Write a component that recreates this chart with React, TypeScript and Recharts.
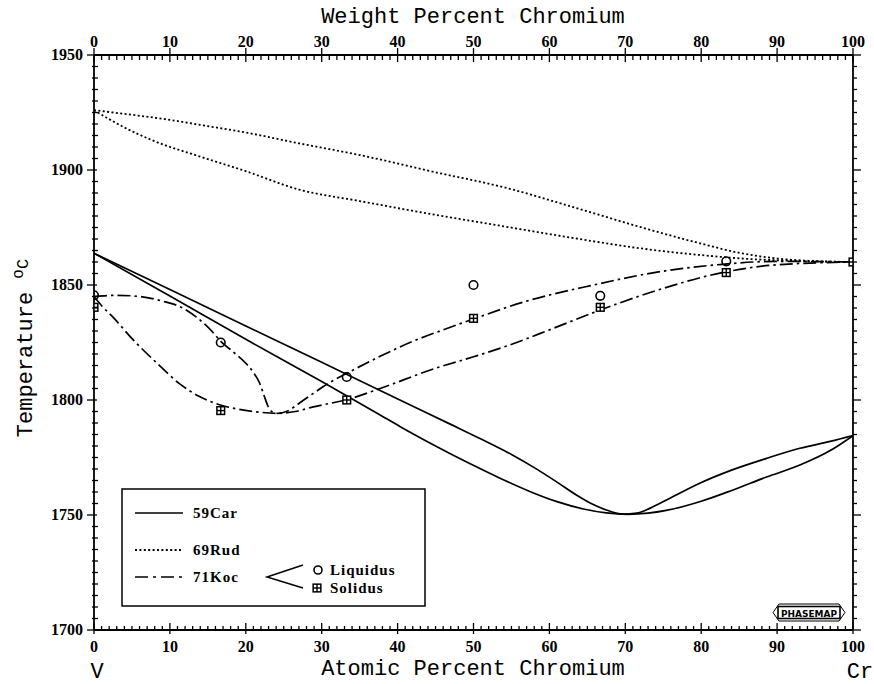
import React from 'react';
import { ComposedChart, Line, Scatter, XAxis, YAxis } from 'recharts';

// ---- axis ticks ----
const xMajorTicks = [0, 10, 20, 30, 40, 50, 60, 70, 80, 90, 100];
const xTickLabels = ['0', '10', '20', '30', '40', '50', '60', '70', '80', '90', '100'];
const xAllTicks = Array.from({ length: 101 }, (_, i) => i);
const yMajorTicks = [1700, 1750, 1800, 1850, 1900, 1950];
const yTickLabels = ['1700', '1750', '1800', '1850', '1900', '1950'];
const yAllTicks = Array.from({ length: 51 }, (_, i) => 1700 + i * 5);

// ---- 59Car (solid) ----
const car59Liquidus = [
  { x: 0, t: 1863.8 }, { x: 10, t: 1848 }, { x: 20, t: 1832.2 }, { x: 30, t: 1816.4 },
  { x: 40.3, t: 1800 }, { x: 47, t: 1789.4 }, { x: 51, t: 1783 }, { x: 55, t: 1776.3 },
  { x: 58, t: 1770.6 }, { x: 61, t: 1764.3 }, { x: 63.5, t: 1758.8 }, { x: 65.5, t: 1755 },
  { x: 67.5, t: 1752.2 }, { x: 69.7, t: 1750.4 }, { x: 71.5, t: 1750.8 }, { x: 73.3, t: 1753 },
  { x: 76, t: 1757.5 }, { x: 79.8, t: 1763.8 }, { x: 84, t: 1769.5 }, { x: 88.6, t: 1774.6 },
  { x: 93, t: 1779 }, { x: 97, t: 1782 }, { x: 100, t: 1784.5 },
];
const car59Solidus = [
  { x: 0, t: 1863.8 }, { x: 10, t: 1845.2 }, { x: 20, t: 1826.4 }, { x: 30, t: 1808 },
  { x: 37.7, t: 1793.5 }, { x: 40.3, t: 1788.5 }, { x: 45, t: 1780 }, { x: 49.1, t: 1773 },
  { x: 53.5, t: 1766 }, { x: 57.9, t: 1759.6 }, { x: 61, t: 1755.8 }, { x: 64.5, t: 1752.6 },
  { x: 67.5, t: 1750.9 }, { x: 70.3, t: 1750.3 }, { x: 73, t: 1750.8 }, { x: 75.4, t: 1752 },
  { x: 80, t: 1756 }, { x: 84.2, t: 1760.9 }, { x: 88.6, t: 1766.5 }, { x: 93, t: 1771.7 },
  { x: 97, t: 1778 }, { x: 100, t: 1784.5 },
];

// ---- 69Rud (dotted) ----
const rud69Liquidus = [
  { x: 0, t: 1926 }, { x: 5, t: 1924 }, { x: 10, t: 1921.8 }, { x: 14, t: 1919.6 },
  { x: 20, t: 1916.3 }, { x: 27, t: 1911.6 }, { x: 35, t: 1906.5 }, { x: 45, t: 1899 },
  { x: 54, t: 1892.5 }, { x: 63, t: 1884 }, { x: 72.7, t: 1874.5 }, { x: 80, t: 1868 },
  { x: 85, t: 1864 }, { x: 90, t: 1861.5 }, { x: 95, t: 1860.4 }, { x: 100, t: 1860 },
];
const rud69Solidus = [
  { x: 0, t: 1926 }, { x: 4, t: 1918.5 }, { x: 8, t: 1912.5 }, { x: 14, t: 1905.8 },
  { x: 20, t: 1899.5 }, { x: 27, t: 1891.5 }, { x: 35, t: 1886.5 }, { x: 45, t: 1880.5 },
  { x: 54, t: 1875.5 }, { x: 63, t: 1870.5 }, { x: 73, t: 1865.5 }, { x: 80, t: 1863 },
  { x: 85, t: 1861.6 }, { x: 92, t: 1860.5 }, { x: 100, t: 1860 },
];

// ---- 71Koc (dash-dot) ----
const koc71Liquidus = [
  { x: 0, t: 1845 }, { x: 3, t: 1845.5 }, { x: 6, t: 1845 }, { x: 9, t: 1843 },
  { x: 11.3, t: 1840.6 }, { x: 13.5, t: 1836 }, { x: 15.5, t: 1830 }, { x: 16.7, t: 1825.5 },
  { x: 18.5, t: 1820.5 }, { x: 20, t: 1816 }, { x: 21, t: 1812 }, { x: 21.8, t: 1807.5 },
  { x: 22.4, t: 1802 }, { x: 22.9, t: 1797.5 }, { x: 23.4, t: 1795 }, { x: 24.2, t: 1794.2 },
  { x: 25.5, t: 1795.2 }, { x: 27, t: 1798.5 }, { x: 28.9, t: 1802.9 }, { x: 31, t: 1807.5 },
  { x: 33.7, t: 1812.3 }, { x: 37.7, t: 1819 }, { x: 42, t: 1825.5 }, { x: 46, t: 1830.5 },
  { x: 49.8, t: 1835 }, { x: 57, t: 1843 }, { x: 65.8, t: 1850 }, { x: 74, t: 1855.5 },
  { x: 82.8, t: 1859 }, { x: 90, t: 1860.3 }, { x: 100, t: 1860 },
];
const koc71Solidus = [
  { x: 0, t: 1845 }, { x: 1, t: 1841 }, { x: 2.5, t: 1836 }, { x: 5.2, t: 1826 },
  { x: 8.3, t: 1816 }, { x: 11.3, t: 1807 }, { x: 13.9, t: 1801.5 }, { x: 16.9, t: 1797.6 },
  { x: 19, t: 1796 }, { x: 21, t: 1795 }, { x: 24.2, t: 1794.2 }, { x: 26.5, t: 1795 },
  { x: 28.9, t: 1797 }, { x: 33.7, t: 1800.5 }, { x: 37.7, t: 1805 }, { x: 45, t: 1813.8 },
  { x: 50, t: 1818.8 }, { x: 54.4, t: 1823.5 }, { x: 60, t: 1830.5 }, { x: 65.8, t: 1838 },
  { x: 74, t: 1847.5 }, { x: 82.8, t: 1855.4 }, { x: 90, t: 1858.8 }, { x: 100, t: 1860 },
];

// ---- 71Koc experimental points ----
const liquidusPoints = [
  { x: 0, t: 1845.5 }, { x: 16.7, t: 1825 }, { x: 33.3, t: 1810 }, { x: 50, t: 1850 },
  { x: 66.7, t: 1845.3 }, { x: 83.3, t: 1860.3 },
];
const solidusPoints = [
  { x: 0, t: 1840.3 }, { x: 16.7, t: 1795.4 }, { x: 33.3, t: 1800 }, { x: 50, t: 1835.5 },
  { x: 66.7, t: 1840.3 }, { x: 83.3, t: 1855.4 }, { x: 100, t: 1860 },
];

const W = 874;
const H = 684;
const MONO = '"Liberation Mono", "Courier New", monospace';
const SERIF = '"Liberation Serif", "Times New Roman", serif';
const labelStyle = { fontFamily: SERIF, fontSize: 16, fontWeight: 700, fill: '#000' } as const;
const axisLine = { stroke: '#000', strokeWidth: 1.8 };
const TK = { stroke: '#000', strokeWidth: 1.3 };

const DOTTED = '2 2.4';
const DASHDOT = '13 4 2.5 4';

const xLabel = (v: number) => {
  const i = xMajorTicks.indexOf(v);
  return i >= 0 ? xTickLabels[i] : null;
};
const yLabel = (v: number) => {
  const i = yMajorTicks.indexOf(v);
  return i >= 0 ? yTickLabels[i] : null;
};

const BottomTick = (p: any) => {
  const { x, y, payload } = p;
  const lab = xLabel(payload.value);
  return (
    <g>
      <line x1={x} x2={x} y1={y - (lab ? 7 : 4)} y2={y + (lab ? 4 : 0)} {...TK} />
      {lab && <text x={x} y={y + 22} textAnchor="middle" {...labelStyle}>{lab}</text>}
    </g>
  );
};
const TopTick = (p: any) => {
  const { x, y, payload } = p;
  const lab = xLabel(payload.value);
  return (
    <g>
      <line x1={x} x2={x} y1={y + (lab ? 7 : 5)} y2={y - (lab ? 7 : 0)} {...TK} />
      {lab && <text x={x} y={y - 8.5} textAnchor="middle" {...labelStyle}>{lab}</text>}
    </g>
  );
};
const LeftTick = (p: any) => {
  const { x, y, payload } = p;
  const lab = yLabel(payload.value);
  return (
    <g>
      <line x1={x - (lab ? 7 : 2)} x2={x + (lab ? 3 : 4)} y1={y} y2={y} {...TK} />
      {lab && <text x={x - 11} y={y + 5.3} textAnchor="end" {...labelStyle}>{lab}</text>}
    </g>
  );
};
const RightTick = (p: any) => {
  const { x, y, payload } = p;
  const lab = yLabel(payload.value);
  return <line x1={x} x2={x + (lab ? 8 : 4)} y1={y} y2={y} {...TK} />;
};

const CircleMark = (props: any) => (
  <circle cx={props.cx} cy={props.cy} r={4.3} fill="none" stroke="#000" strokeWidth={1.6} />
);
const SquareMark = (props: any) => {
  const { cx, cy } = props;
  const s = 4.6;
  return (
    <g>
      <rect x={cx - s} y={cy - s} width={2 * s} height={2 * s} fill="#000" />
      <rect x={cx - 3.1} y={cy - 3.1} width={2.4} height={2.4} fill="#fff" />
      <rect x={cx + 0.7} y={cy - 3.1} width={2.4} height={2.4} fill="#fff" />
      <rect x={cx - 3.1} y={cy + 0.7} width={2.4} height={2.4} fill="#fff" />
      <rect x={cx + 0.7} y={cy + 0.7} width={2.4} height={2.4} fill="#fff" />
    </g>
  );
};

const legendText = { fontFamily: SERIF, fontSize: 15, fontWeight: 700, fill: '#000', letterSpacing: 1 } as const;

export default function App() {
  return (
    <div style={{ position: 'absolute', left: 0, top: 0, width: W, height: H }}>
      <ComposedChart width={W} height={H} margin={{ top: 0, right: 0, bottom: 0, left: 0 }}>
        <XAxis xAxisId="b" type="number" dataKey="x" domain={[0, 100]} ticks={xAllTicks} interval={0}
          orientation="bottom" height={54} tickSize={0} tickMargin={0} tick={<BottomTick />}
          axisLine={axisLine} tickLine={false} allowDataOverflow />
        <XAxis xAxisId="t" type="number" dataKey="x" domain={[0, 100]} ticks={xAllTicks} interval={0}
          orientation="top" height={55} tickSize={0} tickMargin={0} tick={<TopTick />}
          axisLine={axisLine} tickLine={false} allowDataOverflow />
        <YAxis yAxisId="l" type="number" dataKey="t" domain={[1700, 1950]} ticks={yAllTicks} interval={0}
          orientation="left" width={94} tickSize={0} tickMargin={0} tick={<LeftTick />}
          axisLine={axisLine} tickLine={false} allowDataOverflow />
        <YAxis yAxisId="r" type="number" dataKey="t" domain={[1700, 1950]} ticks={yAllTicks} interval={0}
          orientation="right" width={21} tickSize={0} tickMargin={0} tick={<RightTick />}
          axisLine={axisLine} tickLine={false} allowDataOverflow />

        <Line xAxisId="b" yAxisId="l" data={rud69Liquidus} dataKey="t" type="monotone" stroke="#000"
          strokeWidth={1.8} strokeDasharray={DOTTED} dot={false} isAnimationActive={false} />
        <Line xAxisId="b" yAxisId="l" data={rud69Solidus} dataKey="t" type="monotone" stroke="#000"
          strokeWidth={1.8} strokeDasharray={DOTTED} dot={false} isAnimationActive={false} />
        <Line xAxisId="b" yAxisId="l" data={car59Liquidus} dataKey="t" type="monotone" stroke="#000"
          strokeWidth={1.7} dot={false} isAnimationActive={false} />
        <Line xAxisId="b" yAxisId="l" data={car59Solidus} dataKey="t" type="monotone" stroke="#000"
          strokeWidth={1.7} dot={false} isAnimationActive={false} />
        <Line xAxisId="b" yAxisId="l" data={koc71Liquidus} dataKey="t" type="monotone" stroke="#000"
          strokeWidth={1.7} strokeDasharray={DASHDOT} dot={false} isAnimationActive={false} />
        <Line xAxisId="b" yAxisId="l" data={koc71Solidus} dataKey="t" type="monotone" stroke="#000"
          strokeWidth={1.7} strokeDasharray={DASHDOT} dot={false} isAnimationActive={false} />
        <Scatter xAxisId="b" yAxisId="l" data={liquidusPoints} dataKey="t" shape={CircleMark} isAnimationActive={false} />
        <Scatter xAxisId="b" yAxisId="l" data={solidusPoints} dataKey="t" shape={SquareMark} isAnimationActive={false} />
      </ComposedChart>

      <svg width={W} height={H} style={{ position: 'absolute', left: 0, top: 0, pointerEvents: 'none' }}>
        <text x={473} y={23} textAnchor="middle" fontFamily={MONO} fontSize={22} fill="#000">Weight Percent Chromium</text>
        <text x={473} y={675} textAnchor="middle" fontFamily={MONO} fontSize={22} fill="#000">Atomic Percent Chromium</text>
        <text x={97} y={678} textAnchor="middle" fontFamily={MONO} fontSize={22} fill="#000">V</text>
        <text x={860} y={678} textAnchor="middle" fontFamily={MONO} fontSize={22} fill="#000">Cr</text>
        <text transform="translate(32,348) rotate(-90)" textAnchor="middle" fontFamily={MONO} fontSize={22} fill="#000">
          Temperature <tspan dy={-9} fontSize={16}>o</tspan><tspan dy={5} fontSize={17}>C</tspan>
        </text>

        {/* legend */}
        <rect x={122} y={489} width={303} height={117} fill="#fff" stroke="#000" strokeWidth={1.5} />
        <line x1={135} y1={513} x2={183} y2={513} stroke="#000" strokeWidth={1.7} />
        <text x={193} y={518} {...legendText}>59Car</text>
        <line x1={135} y1={550} x2={183} y2={550} stroke="#000" strokeWidth={1.8} strokeDasharray={DOTTED} />
        <text x={193} y={555} {...legendText}>69Rud</text>
        <line x1={135} y1={577} x2={183} y2={577} stroke="#000" strokeWidth={1.7} strokeDasharray="13 5 3 5" />
        <text x={193} y={582} {...legendText}>71Koc</text>
        <polyline points="303,565 267,577 303,588" fill="none" stroke="#000" strokeWidth={1.5} />
        <circle cx={318} cy={570} r={4} fill="none" stroke="#000" strokeWidth={1.6} />
        <text x={330} y={575} {...legendText}>Liquidus</text>
        <SquareMark cx={317} cy={588} />
        <text x={330} y={593} {...legendText}>Solidus</text>

        {/* PHASEMAP badge */}
        <polygon points="773,612.5 779,604 839,604 845,612.5 839,621 779,621" fill="#fff" stroke="#000" strokeWidth={1} />
        <rect x={778} y={606.5} width={62} height={12} fill="#fff" stroke="#000" strokeWidth={1.6} />
        <text x={809} y={616.5} textAnchor="middle" fontFamily='"DejaVu Sans", sans-serif' fontSize={9} fontWeight={700}
          fill="#000" textLength={56} lengthAdjust="spacingAndGlyphs">PHASEMAP</text>
      </svg>
    </div>
  );
}
